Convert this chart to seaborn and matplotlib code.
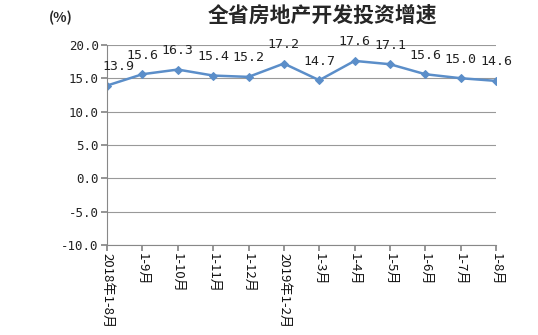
import matplotlib
matplotlib.use("Agg")
import matplotlib.pyplot as plt
import seaborn as sns
import pandas as pd
import numpy as np

categories = ["2018年1-8月", "1-9月", "1-10月", "1-11月", "1-12月", "2019年1-2月",
              "1-3月", "1-4月", "1-5月", "1-6月", "1-7月", "1-8月"]
values = [13.9, 15.6, 16.3, 15.4, 15.2, 17.2, 14.7, 17.6, 17.1, 15.6, 15.0, 14.6]
yticks = [20.0, 15.0, 10.0, 5.0, 0.0, -5.0, -10.0]

sns.set_theme(style="white")
plt.rcParams['font.family'] = ['Noto Sans CJK SC', 'DejaVu Sans']
numfont = ['DejaVu Sans Mono', 'Noto Sans CJK SC']

df = pd.DataFrame({"pos": np.arange(len(categories)), "val": values})

fig = plt.figure(figsize=(5.38, 3.35), dpi=100)
ax = fig.add_axes([0.199, 0.269, 0.723, 0.597])
color = "#5B8EC9"
sns.lineplot(data=df, x="pos", y="val", ax=ax, color=color, linewidth=1.8,
             marker="D", markersize=4, markeredgecolor=color)

ax.set_xlim(0, len(categories) - 1)
ax.set_ylim(-10, 20)
ax.set_yticks(yticks)
ax.set_yticklabels([f"{v:.1f}" for v in yticks], fontsize=9, color="#222222",
                   family=numfont)
ax.set_xticks(df["pos"])
ax.set_xticklabels(categories, rotation=-90, fontsize=9.5, va="top", ha="center",
                   color="#111111")
ax.set_xlabel("")
ax.set_ylabel("")
ax.yaxis.grid(True, color="#999999", linewidth=0.8)
for s in ["top", "right"]:
    ax.spines[s].set_visible(False)
for s in ["left", "bottom"]:
    ax.spines[s].set_color("#888888")
    ax.spines[s].set_linewidth(0.8)
ax.tick_params(axis="x", length=4, color="#888888", direction="out", bottom=True, pad=2)
ax.tick_params(axis="y", length=4, color="#888888", direction="out", left=True, pad=2)

for i, v in enumerate(values):
    dx = 8 if i == 0 else 0
    ax.annotate(f"{v:.1f}", (i, v), xytext=(dx, 9), textcoords="offset points",
                ha="center", va="bottom", fontsize=9.5, color="#222222",
                family=numfont)

fig.text(0.599, 0.955, "全省房地产开发投资增速", ha="center", va="center",
         fontsize=15, fontweight="bold", family=["Noto Sans CJK SC", "DejaVu Sans"])
fig.text(0.112, 0.946, "(%)", ha="center", va="center", fontsize=10,
         fontweight="bold")

fig.savefig("out.png", dpi=100)
